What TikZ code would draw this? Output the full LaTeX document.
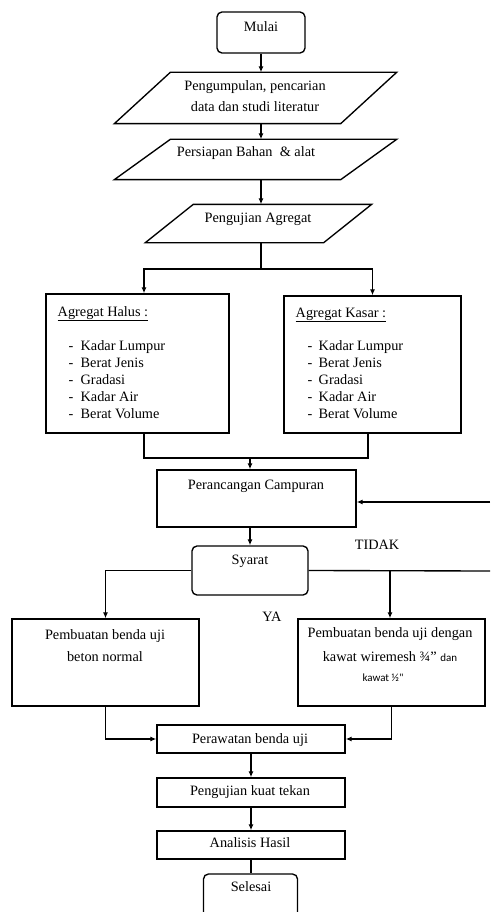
\documentclass[tikz,border=0pt]{standalone}
\usepackage{fontspec}
\setmainfont{Liberation Serif}
\newfontfamily\kecil{Carlito}
\usetikzlibrary{calc, arrows.meta, positioning}

\begin{document}
\begin{tikzpicture}[x=1pt, y=-1pt, >={Latex[length=6pt,width=5pt]}, line width=1.35pt,
  box/.style={draw, rectangle, inner sep=0pt},
  rbox/.style={draw, rectangle, rounded corners=5pt, inner sep=0pt},
  io/.style={rectangle, inner sep=0pt},
  txt/.style={anchor=base, inner sep=0pt, font=\fontsize{14.3}{17}\selectfont},
  ltxt/.style={txt, anchor=base west}]
\useasboundingbox (0,0) rectangle (490,912);
\clip (0,0) rectangle (490,912);

\node[rbox, minimum width=88pt, minimum height=41pt] (mulai) at (261,32.5) {};
\node[txt] (mulai-t) at (261,32) {Mulai};

\node[io, minimum width=281pt, minimum height=50pt] (kumpul) at (255.5,98) {};
\draw ($(kumpul.north west)+(56,0)$) -- (kumpul.north east) -- ($(kumpul.south east)+(-56,0)$) -- (kumpul.south west) -- cycle;
\node[txt] (kumpul-1) at (255,91) {Pengumpulan, pencarian};
\node[txt] (kumpul-2) at (255,112) {data dan studi literatur};

\node[io, minimum width=281pt, minimum height=39pt] (siap) at (255.5,159.5) {};
\draw ($(siap.north west)+(56,0)$) -- (siap.north east) -- ($(siap.south east)+(-56,0)$) -- (siap.south west) -- cycle;
\node[txt] (siap-t) at (246,157) {Persiapan Bahan \ \& alat};

\node[io, minimum width=225pt, minimum height=37pt] (uji-agr) at (258.5,223.5) {};
\draw ($(uji-agr.north west)+(48,0)$) -- (uji-agr.north east) -- ($(uji-agr.south east)+(-48,0)$) -- (uji-agr.south west) -- cycle;
\node[txt] (uji-agr-t) at (258,222) {Pengujian Agregat};

\node[box, minimum width=183pt, minimum height=139pt] (halus) at (137.5,363.5) {};
\node[box, minimum width=177pt, minimum height=137pt] (kasar) at (372.5,364.5) {};
\node[ltxt] (halus-t) at (57,316) {\underline{Agregat Halus :}};
\node[ltxt] (kasar-t) at (295,317) {\underline{Agregat Kasar :}};
\foreach \i/\isi in {0/Kadar Lumpur, 1/Berat Jenis, 2/Gradasi, 3/Kadar Air, 4/Berat Volume}{
  \node[ltxt] (halus-\i) at (68,350+17.2*\i) {\makebox[12pt][l]{-}\isi};
  \node[ltxt] (kasar-\i) at (307,350+17.2*\i) {\makebox[11pt][l]{-}\isi};
}

\node[box, minimum width=199pt, minimum height=57pt] (rancang) at (256.5,498.5) {};
\node[txt] (rancang-t) at (256,489) {Perancangan Campuran};

\node[rbox, minimum width=116pt, minimum height=49pt] (syarat) at (250,570.5) {};
\node[txt] (syarat-t) at (250,564) {Syarat};
\node[txt] (tidak-t) at (377,549) {TIDAK};
\node[txt] (ya-t) at (272,621) {YA};

\node[box, minimum width=187pt, minimum height=87pt] (normal) at (105.5,662.5) {};
\node[txt] (normal-1) at (105,639) {Pembuatan benda uji};
\node[txt] (normal-2) at (105,661) {beton normal};

\node[box, minimum width=187pt, minimum height=87pt] (wire) at (391.5,662.5) {};
\node[txt] (wire-1) at (390,637) {Pembuatan benda uji dengan};
\node[txt] (wire-2) at (390,661) {kawat wiremesh ¾" {\kecil\fontsize{11}{13}\selectfont dan}};
\node[txt] (wire-3) at (383,681) {\kecil\fontsize{11}{13}\selectfont kawat ½"};

\node[box, minimum width=188pt, minimum height=28pt] (rawat) at (251,739) {};
\node[txt] (rawat-t) at (250,743) {Perawatan benda uji};
\node[box, minimum width=188pt, minimum height=29pt] (tekan) at (251,792.5) {};
\node[txt] (tekan-t) at (250,795) {Pengujian kuat tekan};
\node[box, minimum width=188pt, minimum height=28pt] (hasil) at (251,845) {};
\node[txt] (hasil-t) at (250,847) {Analisis Hasil};
\node[rbox, minimum width=94pt, minimum height=51pt] (selesai) at (250.5,899.5) {};
\node[txt] (selesai-t) at (251,891) {Selesai};

\coordinate (cabang) at (261,269);
\coordinate (gabung) at (250,458);
\coordinate (tidak) at (490,571);
\coordinate (balik) at (490,502);
\coordinate (ya) at (390,571);

\draw[->] (mulai.south) -- (mulai.south |- kumpul.north);
\draw[->] (kumpul.south -| mulai) -- (siap.north -| mulai);
\draw[->] (siap.south -| mulai) -- (uji-agr.north -| mulai);
\draw (uji-agr.south -| mulai) -- (cabang);
\draw[->] (cabang) -| ([xshift=6.5pt]halus.north);
\draw[->] (cabang) -| (kasar.north);
\draw ([xshift=6.5pt]halus.south) |- (gabung) -| ([xshift=-4.5pt]kasar.south);
\draw[->] (gabung) -- (gabung |- rancang.north);
\draw[->] (rancang.south -| syarat) -- (syarat.north);
\draw (syarat.east) -- (tidak);
\draw[->] (balik) -- (balik -| rancang.east);
\draw[->] (syarat.west) -| (normal.north);
\draw[->] (ya) -- (ya |- wire.north);
\draw[->] (normal.south) |- (rawat.west);
\draw[->] (wire.south) |- (rawat.east);
\draw[->] (rawat) -- (tekan);
\draw[->] (tekan) -- (hasil);
\draw (hasil.south) -- (hasil.south |- selesai.north);

\end{tikzpicture}
\end{document}
